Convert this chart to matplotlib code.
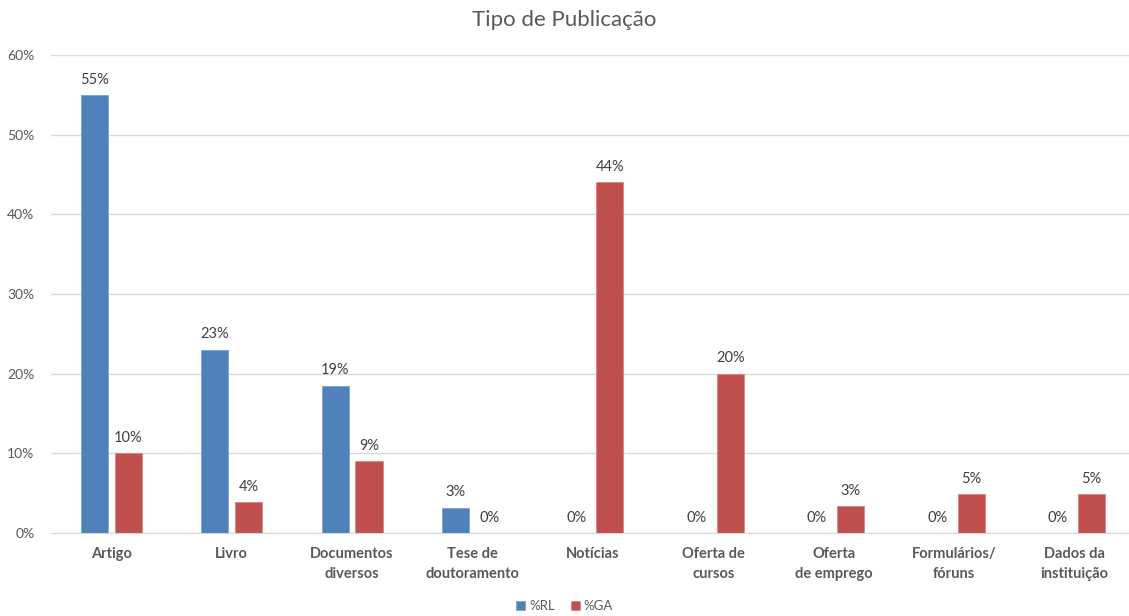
import matplotlib.pyplot as plt
import numpy as np

plt.rcParams["font.family"] = ["Lato", "DejaVu Sans"]

categories = [
    "Artigo", "Livro", "Documentos\ndiversos", "Tese de\ndoutoramento",
    "Notícias", "Oferta de\ncursos", "Oferta\nde emprego",
    "Formulários/\nfóruns", "Dados da\ninstituição",
]
rl_values = [55, 23, 18.5, 3.2, 0, 0, 0, 0, 0]
ga_values = [10, 3.9, 9, 0, 44, 20, 3.4, 4.9, 4.9]
series_names = ["%RL", "%GA"]
yticks = [0, 10, 20, 30, 40, 50, 60]

BLUE = "#4f81bd"
RED = "#c0504d"
TEXT = "#595959"
GRID = "#d9d9d9"

fig = plt.figure(figsize=(11.29, 6.16), dpi=100)
ax = fig.add_axes([51 / 1129, 1 - 533 / 616, (1135 - 51) / 1129, (533 - 55) / 616])

x = np.arange(len(categories))
width = 0.225
offset = 0.14

bars_rl = ax.bar(x - offset, rl_values, width, color=BLUE, edgecolor="#7ea3d1",
                 linewidth=0.6, label=series_names[0], zorder=3)
bars_ga = ax.bar(x + offset, ga_values, width, color=RED, edgecolor="#d88482",
                 linewidth=0.6, label=series_names[1], zorder=3)


def pct(v):
    return f"{int(v + 0.5)}%"


for bars, vals in ((bars_rl, rl_values), (bars_ga, ga_values)):
    for b, v in zip(bars, vals):
        ax.annotate(pct(v), (b.get_x() + b.get_width() / 2, v),
                    xytext=(0, 6), textcoords="offset points",
                    ha="center", va="bottom", fontsize=10.5, color="#404040")

ax.set_xlim(-0.5, len(categories) - 0.5)
ax.set_ylim(0, 60)
ax.set_yticks(yticks)
ax.set_yticklabels([f"{t}%" for t in yticks])
ax.set_xticks(x)
ax.set_xticklabels(categories, fontweight="bold", linespacing=1.6)

ax.tick_params(axis="y", length=0, pad=12, labelsize=10, labelcolor=TEXT)
ax.tick_params(axis="x", length=0, pad=10, labelsize=10.5, labelcolor=TEXT)
for lbl in ax.get_yticklabels():
    lbl.set_horizontalalignment("right")

ax.grid(axis="y", color=GRID, linewidth=1, zorder=0)
for side in ("top", "right", "left"):
    ax.spines[side].set_visible(False)
ax.spines["bottom"].set_color(GRID)
ax.spines["bottom"].set_zorder(4)

fig.text(0.5, 1 - 20 / 616, "Tipo de Publicação", ha="center", va="center",
         fontsize=16, color=TEXT)

fig.legend(handles=[bars_rl, bars_ga], labels=series_names, loc="center",
           bbox_to_anchor=(0.5, 1 - 606 / 616), ncol=2, frameon=False,
           fontsize=9.5, handlelength=0.7, handleheight=0.7, handletextpad=0.3,
           columnspacing=1.2, labelcolor=TEXT)

fig.savefig("out.png", dpi=100)
